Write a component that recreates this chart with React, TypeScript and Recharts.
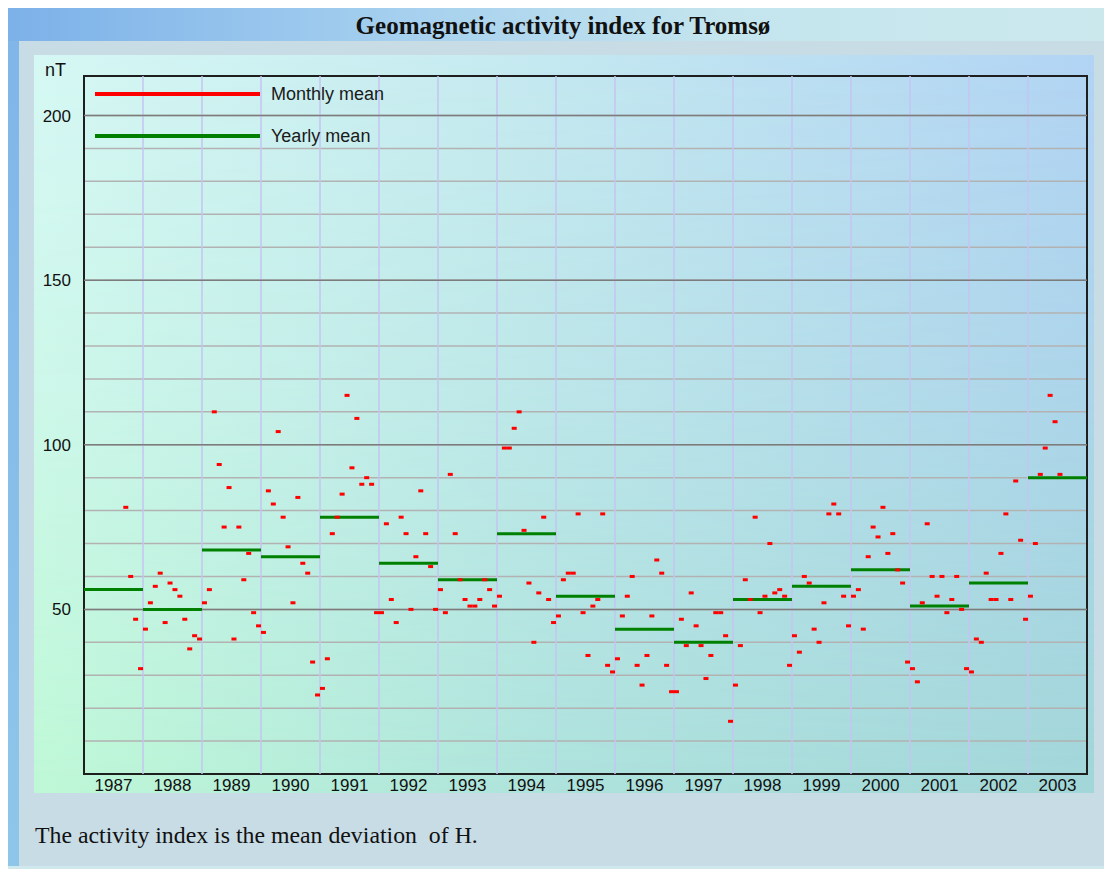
import React from 'react';
import {
  ScatterChart,
  Scatter,
  XAxis,
  YAxis,
  CartesianGrid,
  ReferenceLine,
  ReferenceArea,
  Legend,
} from 'recharts';

const years = [1987, 1988, 1989, 1990, 1991, 1992, 1993, 1994, 1995, 1996, 1997, 1998, 1999, 2000, 2001, 2002, 2003];
const yearTicks = years.map((y) => y + 0.5);
const yTicks = [0, 10, 20, 30, 40, 50, 60, 70, 80, 90, 100, 110, 120, 130, 140, 150, 160, 170, 180, 190, 200];
const yLabelled = [50, 100, 150, 200];

// monthly mean deviation of H (nT), Jan..Dec, null = no data
const monthlyMeans: (number | null)[][] = [
  [null, null, null, null, null, null, null, null, 81, 60, 47, 32],
  [44, 52, 57, 61, 46, 58, 56, 54, 47, 38, 42, 41],
  [52, 56, 110, 94, 75, 87, 41, 75, 59, 67, 49, 45],
  [43, 86, 82, 104, 78, 69, 52, 84, 64, 61, 34, 24],
  [26, 35, 73, 78, 85, 115, 93, 108, 88, 90, 88, 49],
  [49, 76, 53, 46, 78, 73, 50, 66, 86, 73, 63, 50],
  [56, 49, 91, 73, 59, 53, 51, 51, 53, 59, 56, 51],
  [54, 99, 99, 105, 110, 74, 58, 40, 55, 78, 53, 46],
  [48, 59, 61, 61, 79, 49, 36, 51, 53, 79, 33, 31],
  [35, 48, 54, 60, 33, 27, 36, 48, 65, 61, 33, 25],
  [25, 47, 39, 55, 45, 39, 29, 36, 49, 49, 42, 16],
  [27, 39, 59, 53, 78, 49, 54, 70, 55, 56, 54, 33],
  [42, 37, 60, 58, 44, 40, 52, 79, 82, 79, 54, 45],
  [54, 56, 44, 66, 75, 72, 81, 67, 73, 62, 58, 34],
  [32, 28, 52, 76, 60, 54, 60, 49, 53, 60, 50, 32],
  [31, 41, 40, 61, 53, 53, 67, 79, 53, 89, 71, 47],
  [54, 70, 91, 99, 115, 107, 91, null, null, null, null, null],
];

const yearlyMeans = [56, 50, 68, 66, 78, 64, 59, 73, 54, 44, 40, 53, 57, 62, 51, 58, 90];

const legendItems = [
  { label: 'Monthly mean', color: '#ff0000' },
  { label: 'Yearly mean', color: '#008000' },
];

const monthlyPoints = years.flatMap((yr, i) =>
  monthlyMeans[i].flatMap((v, m) => (v === null ? [] : [{ x: yr + (m + 0.5) / 12, y: v }]))
);

const MonthMarker = (props: any) => {
  const { cx, cy } = props;
  if (cx == null || cy == null) return null;
  return <rect x={cx - 2.5} y={cy - 1.5} width={5} height={3} fill="#ff0000" />;
};

const renderLegend = () => (
  <div style={{ fontFamily: '"Liberation Sans", Arial, sans-serif', fontSize: 18, color: '#1a1a1a' }}>
    {legendItems.map((it, i) => (
      <div
        key={it.label}
        style={{ display: 'flex', alignItems: 'center', height: 20, marginBottom: i === 0 ? 22 : 0 }}
      >
        <div style={{ width: 165, height: 4, background: it.color }} />
        <span style={{ marginLeft: 11, lineHeight: '20px', whiteSpace: 'nowrap' }}>{it.label}</span>
      </div>
    ))}
  </div>
);

const tickStyle = { fontFamily: '"Liberation Sans", Arial, sans-serif', fontSize: 17, fill: '#111' };

export default function App() {
  return (
    <div style={{ position: 'relative', width: 1104, height: 869, overflow: 'hidden', background: '#ffffff' }}>
      <style>{`body{margin:0;overflow:hidden}`}</style>
      {/* header bar */}
      <div
        style={{
          position: 'absolute',
          left: 8,
          top: 8,
          width: 1096,
          height: 33,
          background: 'linear-gradient(to right, #7cb1e9 0%, #a4cfee 35%, #c4e5ee 65%, #cbe9ed 100%)',
        }}
      />
      {/* left stripe */}
      <div
        style={{
          position: 'absolute',
          left: 8,
          top: 41,
          width: 11,
          height: 825,
          background: 'linear-gradient(to bottom, #80b6e8, #8ec6ea)',
        }}
      />
      {/* panel */}
      <div style={{ position: 'absolute', left: 19, top: 41, width: 1085, height: 825, background: '#c8dce6' }} />
      <div style={{ position: 'absolute', left: 8, top: 866, width: 1096, height: 3, background: '#cfe8ee' }} />
      {/* title */}
      <div
        style={{
          position: 'absolute',
          left: 263,
          top: 12.6,
          width: 600,
          textAlign: 'center',
          fontFamily: '"Liberation Serif", "Times New Roman", serif',
          fontWeight: 'bold',
          fontSize: 25,
          lineHeight: '25px',
          color: '#111',
          whiteSpace: 'nowrap',
        }}
      >
        Geomagnetic activity index for Tromsø
      </div>
      {/* chart area */}
      <div style={{ position: 'absolute', left: 34, top: 55, width: 1060, height: 738 }}>
        <div
          style={{
            position: 'absolute',
            inset: 0,
            background: 'linear-gradient(to right, #d6f8f4 0%, #c6eaf0 45%, #b2d4f4 100%)',
          }}
        />
        <div
          style={{
            position: 'absolute',
            inset: 0,
            background: 'linear-gradient(to right, #bef8d6 0%, #ade2dc 50%, #a2d6d8 100%)',
            WebkitMaskImage: 'linear-gradient(to bottom, rgba(0,0,0,0) 0%, rgba(0,0,0,0.35) 45%, rgba(0,0,0,1) 100%)',
            maskImage: 'linear-gradient(to bottom, rgba(0,0,0,0) 0%, rgba(0,0,0,0.35) 45%, rgba(0,0,0,1) 100%)',
          }}
        />
        <div
          style={{
            position: 'absolute',
            left: 11,
            top: 5.6,
            fontFamily: '"Liberation Sans", Arial, sans-serif',
            fontSize: 18,
            lineHeight: '18px',
            color: '#111',
          }}
        >
          nT
        </div>
        <div style={{ position: 'absolute', left: 0, top: 0 }}>
          <ScatterChart width={1060} height={762} margin={{ top: 21, right: 7, bottom: 24, left: 0 }}>
            <CartesianGrid vertical={false} stroke="#b2b2b2" strokeWidth={1.5} />
            {years.slice(1).map((y) => (
              <ReferenceLine key={'v' + y} x={y} stroke="#c4c4f2" strokeWidth={1.5} />
            ))}
            {yLabelled.map((v) => (
              <ReferenceLine key={'h' + v} y={v} stroke="#7c7c7c" strokeWidth={1.5} />
            ))}
            <XAxis
              type="number"
              dataKey="x"
              domain={[1987, 2004]}
              ticks={yearTicks}
              tickFormatter={(v: number) => String(Math.floor(v))}
              axisLine={false}
              tickLine={false}
              tickSize={2}
              tickMargin={3}
              height={19}
              interval={0}
              tick={tickStyle}
              allowDataOverflow
            />
            <YAxis
              type="number"
              dataKey="y"
              domain={[0, 212]}
              ticks={yTicks}
              tickFormatter={(v: number) => (yLabelled.includes(v) ? String(v) : '')}
              axisLine={false}
              tickLine={false}
              tickSize={6}
              tickMargin={7}
              width={50}
              interval={0}
              tick={tickStyle}
              allowDataOverflow
            />
            {years.map((y, i) => (
              <ReferenceLine
                key={'m' + y}
                segment={[
                  { x: y, y: yearlyMeans[i] },
                  { x: y + 1, y: yearlyMeans[i] },
                ]}
                stroke="#008000"
                strokeWidth={3}
              />
            ))}
            <ReferenceArea x1={1987} x2={2004} y1={0} y2={212} fill="none" stroke="#1e1e1e" strokeWidth={2} />
            <Scatter
              name="Monthly mean"
              data={monthlyPoints}
              shape={MonthMarker}
              isAnimationActive={false}
            />
            <Legend
              layout="horizontal"
              verticalAlign="middle"
              align="center"
              content={renderLegend}
              wrapperStyle={{ left: 61, top: 29, width: 320, height: 62 }}
            />
          </ScatterChart>
        </div>
      </div>
      {/* caption */}
      <div
        style={{
          position: 'absolute',
          left: 35,
          top: 824,
          fontFamily: '"Liberation Serif", "Times New Roman", serif',
          fontSize: 23.8,
          lineHeight: '23.8px',
          color: '#111',
          whiteSpace: 'pre',
        }}
      >
        {'The activity index is the mean deviation  of H.'}
      </div>
    </div>
  );
}
